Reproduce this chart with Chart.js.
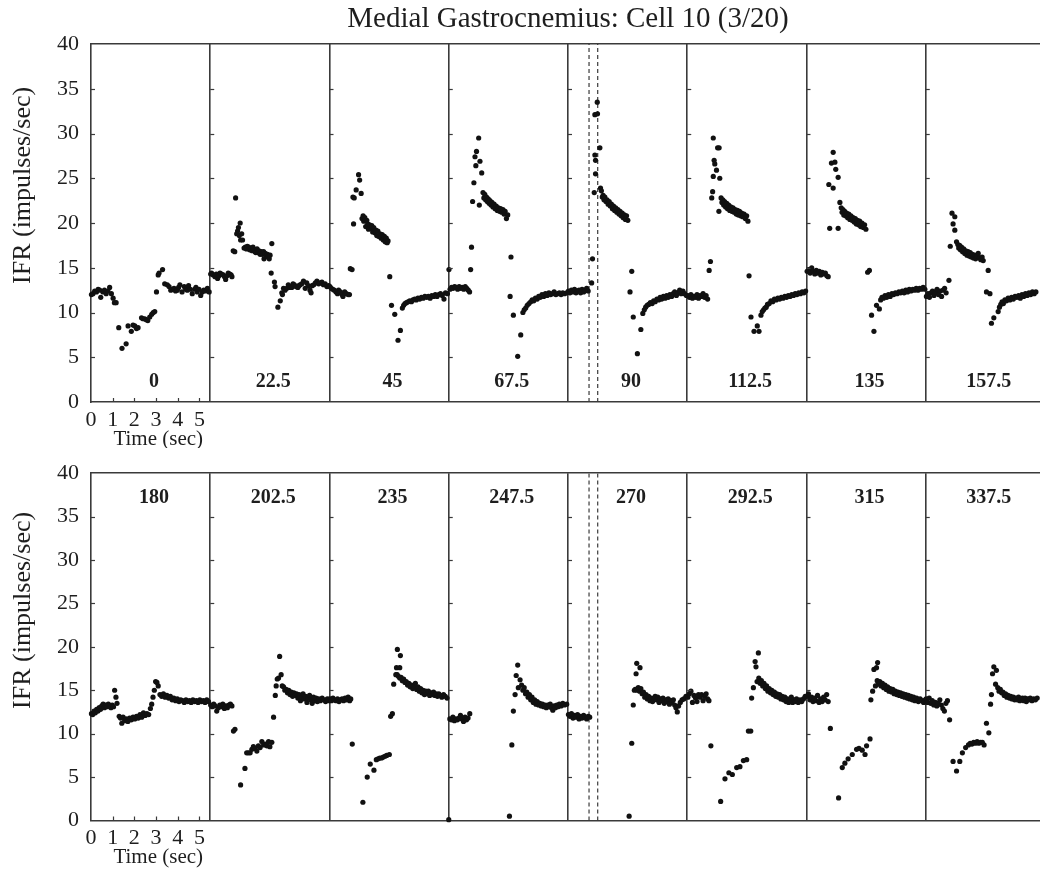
<!DOCTYPE html>
<html>
<head>
<meta charset="utf-8">
<script src="https://cdn.jsdelivr.net/npm/chart.js@4.4.1/dist/chart.umd.min.js"></script>
<style>
  html, body { margin: 0; padding: 0; background: #fff; overflow: hidden; }
  canvas { display: block; }
</style>
</head>
<body>
<canvas id="rowTop" width="1050" height="448"></canvas>
<canvas id="rowBottom" width="1050" height="424"></canvas>
<script>
// ---- data: [time in window (sec), IFR (impulses/sec)] per stimulus direction ----

const topLabels = ['0', '22.5', '45', '67.5', '90', '112.5', '135', '157.5'];
const bottomLabels = ['180', '202.5', '235', '247.5', '270', '292.5', '315', '337.5'];
const timeTicks = [0, 1, 2, 3, 4, 5];
const ifrTicks = [0, 5, 10, 15, 20, 25, 30, 35, 40];
const holdMarks = [0.97, 1.37];   // dashed markers, 90 and 270 panels

const deg0 = [[0.02,12.0],[0.09,12.1],[0.17,12.4],[0.25,12.3],[0.33,12.6],[0.40,12.5],[0.45,11.7],[0.55,12.3],[0.62,12.5],[0.70,12.1],[0.78,12.4],[0.86,12.8],[0.94,12.1],[1.02,11.6],[1.08,11.1],[1.16,11.1],[1.28,8.3],[1.43,6.0],[1.62,6.5],[1.71,8.5],[1.86,7.9],[1.94,8.6],[2.02,8.5],[2.10,8.2],[2.17,8.3],[2.33,9.4],[2.40,9.3],[2.48,9.3],[2.55,9.2],[2.62,9.1],[2.71,9.5],[2.80,9.8],[2.87,10.0],[2.94,10.1],[3.02,12.3],[3.10,14.2],[3.14,14.4],[3.30,14.8],[3.40,13.2],[3.52,13.1],[3.60,12.9],[3.68,12.5],[3.76,12.6],[3.83,12.7],[3.90,12.4],[3.98,12.5],[4.04,12.8],[4.10,13.1],[4.20,12.3],[4.30,12.9],[4.37,12.6],[4.44,12.5],[4.50,13.0],[4.58,12.6],[4.67,12.1],[4.78,12.6],[4.84,12.8],[4.90,12.3],[4.98,12.6],[5.06,11.9],[5.13,12.3],[5.20,12.5],[5.28,12.4],[5.37,12.7],[5.45,12.3]];
const deg22_5 = [[0.02,14.3],[0.06,14.4],[0.14,14.2],[0.22,14.0],[0.28,14.3],[0.34,13.8],[0.40,14.1],[0.45,14.4],[0.52,14.3],[0.60,14.2],[0.66,14.0],[0.71,13.7],[0.77,14.1],[0.83,14.4],[0.90,14.3],[0.96,14.2],[1.00,14.0],[1.06,16.9],[1.13,16.8],[1.17,22.8],[1.22,18.8],[1.26,19.1],[1.30,19.5],[1.34,18.6],[1.38,20.0],[1.40,18.1],[1.45,18.8],[1.49,18.1],[1.56,17.2],[1.62,17.3],[1.67,17.1],[1.71,17.4],[1.77,17.3],[1.82,17.0],[1.87,17.2],[1.93,16.9],[1.97,17.3],[2.02,17.0],[2.07,16.8],[2.10,16.7],[2.16,17.1],[2.20,16.7],[2.25,16.9],[2.30,16.5],[2.35,16.8],[2.41,16.5],[2.46,16.8],[2.48,16.0],[2.54,16.6],[2.58,16.3],[2.64,16.5],[2.68,16.2],[2.72,16.0],[2.76,16.4],[2.81,14.4],[2.84,17.7],[2.96,13.4],[2.99,12.9],[3.12,10.6],[3.23,11.3],[3.30,12.2],[3.33,12.0],[3.38,12.7],[3.45,12.5],[3.53,12.7],[3.60,13.1],[3.66,12.8],[3.72,12.9],[3.76,12.8],[3.82,13.2],[3.88,13.1],[3.95,12.9],[4.04,12.8],[4.09,13.0],[4.14,13.1],[4.22,13.2],[4.30,13.5],[4.38,12.7],[4.45,13.3],[4.52,13.0],[4.60,12.5],[4.65,12.2],[4.70,13.0],[4.77,13.1],[4.85,13.3],[4.92,13.5],[5.00,13.2],[5.07,13.3],[5.15,13.4],[5.22,13.1],[5.30,13.2],[5.38,12.9],[5.46,13.0]];
const deg45 = [[0.02,12.9],[0.08,12.7],[0.15,12.6],[0.22,12.5],[0.30,12.3],[0.37,12.1],[0.42,12.5],[0.50,12.3],[0.58,12.0],[0.62,11.8],[0.70,12.3],[0.78,12.1],[0.86,12.0],[0.92,12.0],[0.96,14.9],[1.04,14.8],[1.08,22.9],[1.11,19.9],[1.14,22.8],[1.23,23.7],[1.34,25.4],[1.39,24.8],[1.46,23.3],[1.50,20.5],[1.55,20.8],[1.58,20.2],[1.63,20.6],[1.67,19.6],[1.72,20.3],[1.76,19.9],[1.80,19.3],[1.85,19.8],[1.90,19.4],[1.95,19.7],[1.99,19.0],[2.04,19.5],[2.09,18.9],[2.14,19.2],[2.18,18.6],[2.23,19.1],[2.28,18.5],[2.33,18.8],[2.38,18.3],[2.43,18.7],[2.48,18.1],[2.53,18.5],[2.57,17.9],[2.62,18.3],[2.66,17.8],[2.70,18.0],[2.78,14.0],[2.86,10.8],[3.01,9.8],[3.16,6.9],[3.27,8.0],[3.36,10.5],[3.42,10.8],[3.48,11.0],[3.55,11.1],[3.62,11.2],[3.70,11.3],[3.78,11.2],[3.85,11.4],[3.93,11.5],[4.00,11.4],[4.08,11.6],[4.16,11.5],[4.24,11.7],[4.32,11.6],[4.40,11.8],[4.48,11.7],[4.56,11.8],[4.64,11.6],[4.72,11.9],[4.80,11.8],[4.88,12.0],[4.96,11.8],[5.04,12.0],[5.12,12.1],[5.20,11.9],[5.28,11.5],[5.35,12.2],[5.44,12.1]];
const deg67_5 = [[0.01,14.8],[0.06,12.6],[0.13,12.8],[0.20,12.7],[0.27,12.9],[0.34,12.8],[0.41,12.6],[0.48,12.9],[0.55,12.7],[0.62,12.8],[0.69,12.6],[0.76,12.9],[0.83,12.7],[0.90,12.5],[0.96,12.3],[1.01,14.8],[1.05,17.3],[1.10,22.4],[1.16,24.5],[1.21,27.4],[1.25,26.4],[1.28,28.0],[1.38,29.5],[1.41,22.0],[1.44,26.9],[1.52,25.6],[1.58,23.4],[1.62,22.8],[1.66,23.2],[1.70,22.6],[1.74,22.9],[1.78,22.4],[1.82,22.7],[1.86,22.2],[1.90,22.5],[1.95,22.0],[1.99,22.3],[2.04,21.8],[2.09,22.1],[2.14,21.6],[2.19,21.9],[2.24,21.4],[2.29,21.7],[2.34,21.3],[2.39,21.6],[2.44,21.2],[2.50,21.5],[2.55,21.0],[2.60,21.3],[2.66,20.5],[2.72,20.9],[2.83,11.8],[2.87,16.2],[2.98,9.7],[3.18,5.1],[3.32,7.5],[3.42,10.0],[3.48,10.3],[3.55,10.5],[3.62,10.8],[3.70,11.0],[3.78,11.2],[3.85,11.4],[3.92,11.3],[4.00,11.6],[4.08,11.5],[4.15,11.8],[4.22,11.7],[4.30,12.0],[4.38,11.8],[4.46,12.1],[4.54,11.9],[4.62,12.2],[4.70,12.0],[4.78,12.1],[4.86,12.3],[4.94,12.0],[5.02,12.1],[5.10,12.2],[5.18,12.0],[5.26,12.2],[5.34,12.1],[5.44,12.2]];
const deg90 = [[0.02,12.4],[0.09,12.2],[0.16,12.5],[0.23,12.3],[0.30,12.6],[0.37,12.2],[0.44,12.4],[0.51,12.5],[0.58,12.2],[0.65,12.6],[0.72,12.3],[0.79,12.5],[0.86,12.7],[0.93,12.4],[1.09,13.3],[1.13,16.0],[1.21,23.4],[1.24,27.6],[1.24,32.1],[1.27,27.0],[1.27,25.5],[1.35,33.5],[1.36,32.2],[1.47,28.4],[1.50,23.9],[1.54,23.6],[1.58,22.9],[1.62,23.1],[1.66,22.6],[1.70,22.9],[1.75,22.4],[1.80,22.6],[1.85,22.1],[1.90,22.4],[1.95,21.9],[2.00,22.1],[2.05,21.6],[2.10,21.9],[2.15,21.4],[2.20,21.7],[2.25,21.2],[2.30,21.5],[2.35,21.0],[2.40,21.3],[2.45,20.8],[2.50,21.1],[2.55,20.6],[2.60,20.9],[2.65,20.4],[2.70,20.8],[2.76,20.3],[2.86,12.3],[2.94,14.6],[3.01,9.5],[3.20,5.4],[3.36,8.1],[3.45,9.9],[3.52,10.3],[3.58,10.6],[3.65,10.8],[3.72,10.9],[3.80,11.1],[3.88,11.0],[3.95,11.3],[4.02,11.2],[4.10,11.5],[4.18,11.4],[4.25,11.7],[4.32,11.5],[4.40,11.8],[4.48,11.6],[4.55,11.9],[4.62,11.7],[4.70,12.0],[4.78,11.8],[4.85,12.1],[4.92,12.3],[5.00,11.9],[5.08,12.2],[5.15,12.5],[5.22,12.1],[5.30,12.4],[5.38,12.1],[5.46,11.9]];
const deg112_5 = [[0.03,11.9],[0.10,11.7],[0.17,12.0],[0.24,11.6],[0.31,11.8],[0.38,11.7],[0.45,12.0],[0.52,11.6],[0.59,11.9],[0.66,11.8],[0.73,12.1],[0.80,11.7],[0.87,11.9],[0.94,11.5],[1.01,14.7],[1.07,15.7],[1.13,22.8],[1.17,23.5],[1.20,25.2],[1.20,29.5],[1.24,27.0],[1.27,26.6],[1.35,25.9],[1.40,28.4],[1.46,21.3],[1.47,28.4],[1.50,25.0],[1.56,22.8],[1.60,22.3],[1.64,22.6],[1.68,22.0],[1.72,22.4],[1.77,21.8],[1.82,22.2],[1.86,21.6],[1.91,22.0],[1.96,21.4],[2.01,21.8],[2.06,21.3],[2.11,21.7],[2.16,21.2],[2.21,21.5],[2.26,21.0],[2.31,21.4],[2.36,20.9],[2.41,21.3],[2.46,20.8],[2.51,21.1],[2.56,20.7],[2.62,21.0],[2.68,20.5],[2.74,20.8],[2.80,20.2],[2.85,14.1],[2.94,9.5],[3.08,7.9],[3.23,8.5],[3.31,7.9],[3.40,9.7],[3.46,10.1],[3.52,10.3],[3.58,10.5],[3.64,10.6],[3.70,10.9],[3.78,11.0],[3.86,11.3],[3.94,11.2],[4.02,11.5],[4.10,11.4],[4.18,11.6],[4.26,11.5],[4.34,11.7],[4.42,11.6],[4.50,11.8],[4.58,11.7],[4.66,11.9],[4.74,11.8],[4.82,12.0],[4.90,11.9],[4.98,12.1],[5.06,12.0],[5.14,12.2],[5.22,12.1],[5.30,12.3],[5.38,12.2],[5.46,12.4]];
const deg135 = [[0.03,14.6],[0.10,14.8],[0.17,14.4],[0.24,15.0],[0.31,14.6],[0.38,14.3],[0.45,14.7],[0.52,14.4],[0.59,14.6],[0.66,14.2],[0.73,14.5],[0.80,14.3],[0.87,14.4],[0.94,14.1],[1.00,14.0],[1.03,24.3],[1.07,19.4],[1.15,26.7],[1.23,23.9],[1.23,27.9],[1.31,26.8],[1.35,26.0],[1.46,25.1],[1.46,19.4],[1.54,22.3],[1.60,21.7],[1.64,21.2],[1.68,21.5],[1.72,20.9],[1.76,21.3],[1.80,20.8],[1.85,21.1],[1.90,20.6],[1.95,21.0],[2.00,20.4],[2.05,20.8],[2.10,20.3],[2.15,20.6],[2.20,20.1],[2.25,20.5],[2.30,19.9],[2.35,20.3],[2.40,19.8],[2.45,20.2],[2.50,19.6],[2.56,20.0],[2.62,19.5],[2.68,19.8],[2.74,19.3],[2.82,14.5],[2.90,14.7],[3.00,9.7],[3.11,7.9],[3.23,10.8],[3.36,10.4],[3.42,11.4],[3.48,11.7],[3.55,11.6],[3.62,11.9],[3.70,11.7],[3.78,12.0],[3.86,11.8],[3.94,12.1],[4.02,12.0],[4.10,12.2],[4.18,12.1],[4.26,12.3],[4.34,12.2],[4.42,12.4],[4.50,12.2],[4.58,12.5],[4.66,12.3],[4.74,12.6],[4.82,12.4],[4.90,12.6],[4.98,12.5],[5.06,12.7],[5.14,12.5],[5.22,12.7],[5.30,12.6],[5.38,12.8],[5.46,12.6]];
const deg157_5 = [[0.03,11.8],[0.10,12.1],[0.17,11.7],[0.24,12.2],[0.31,12.4],[0.38,11.9],[0.45,12.3],[0.52,12.6],[0.59,12.0],[0.66,12.4],[0.73,11.8],[0.80,12.5],[0.87,12.7],[0.94,12.2],[1.07,13.6],[1.13,17.4],[1.21,21.1],[1.26,19.9],[1.34,20.7],[1.34,19.2],[1.42,17.9],[1.48,17.6],[1.52,17.2],[1.56,17.5],[1.60,17.0],[1.65,17.3],[1.70,16.8],[1.75,17.1],[1.80,16.6],[1.85,16.9],[1.90,16.4],[1.95,16.8],[2.00,16.3],[2.05,16.7],[2.10,16.2],[2.15,16.5],[2.20,16.1],[2.25,16.4],[2.30,16.0],[2.36,16.3],[2.42,16.6],[2.48,16.1],[2.54,15.9],[2.60,16.2],[2.65,15.8],[2.80,12.3],[2.88,14.7],[2.96,12.1],[3.03,8.8],[3.14,9.4],[3.34,10.1],[3.40,10.6],[3.46,10.9],[3.52,11.2],[3.58,11.0],[3.65,11.4],[3.72,11.3],[3.80,11.6],[3.88,11.4],[3.96,11.7],[4.04,11.5],[4.12,11.8],[4.20,11.7],[4.28,11.9],[4.36,11.6],[4.44,12.0],[4.52,11.8],[4.60,12.1],[4.68,11.9],[4.76,12.2],[4.84,12.0],[4.92,12.3],[5.00,12.1],[5.08,12.3]];

const deg180 = [[0.02,12.3],[0.08,12.2],[0.14,12.6],[0.20,12.4],[0.26,12.8],[0.32,12.6],[0.38,13.0],[0.44,12.8],[0.50,13.2],[0.56,13.4],[0.62,13.0],[0.68,13.3],[0.74,13.1],[0.80,13.4],[0.86,13.2],[0.92,13.0],[0.98,13.3],[1.04,13.1],[1.09,15.0],[1.15,14.2],[1.20,13.5],[1.30,12.0],[1.36,11.8],[1.42,11.2],[1.48,11.9],[1.55,11.5],[1.62,11.7],[1.70,11.4],[1.78,11.8],[1.86,11.6],[1.94,11.9],[2.02,11.7],[2.10,12.0],[2.18,11.8],[2.26,12.2],[2.34,11.9],[2.42,12.4],[2.50,12.1],[2.58,12.3],[2.66,12.2],[2.74,12.9],[2.80,13.4],[2.86,14.2],[2.92,15.0],[2.98,16.0],[3.04,15.9],[3.10,15.5],[3.18,14.5],[3.26,14.3],[3.34,14.6],[3.42,14.2],[3.50,14.4],[3.58,14.1],[3.66,14.3],[3.74,13.9],[3.82,14.1],[3.90,13.8],[3.98,14.0],[4.06,13.7],[4.14,13.9],[4.22,13.8],[4.30,13.6],[4.38,13.9],[4.46,13.7],[4.54,13.8],[4.62,13.6],[4.70,13.9],[4.78,13.7],[4.86,13.8],[4.94,13.6],[5.02,13.9],[5.10,13.7],[5.18,13.8],[5.26,13.6],[5.34,13.9],[5.42,13.7]];
const deg202_5 = [[0.02,13.3],[0.09,13.1],[0.16,13.4],[0.23,13.2],[0.30,12.6],[0.37,13.0],[0.44,13.3],[0.51,13.1],[0.58,13.4],[0.65,12.9],[0.72,13.2],[0.79,13.0],[0.86,13.3],[0.93,13.4],[1.00,13.2],[1.07,10.3],[1.14,10.5],[1.40,4.1],[1.60,6.0],[1.68,7.8],[1.76,7.8],[1.84,7.8],[1.92,8.2],[1.99,8.5],[2.07,8.3],[2.15,8.0],[2.22,8.6],[2.30,8.4],[2.38,9.1],[2.46,8.7],[2.53,8.8],[2.61,8.6],[2.69,9.1],[2.75,8.5],[2.84,9.0],[2.92,11.9],[3.00,14.4],[3.04,15.5],[3.09,16.3],[3.15,16.4],[3.20,18.9],[3.27,16.8],[3.32,15.5],[3.38,15.4],[3.44,15.0],[3.50,15.1],[3.56,14.7],[3.62,15.0],[3.68,14.5],[3.74,14.8],[3.80,14.3],[3.86,14.7],[3.92,14.4],[3.98,14.6],[4.04,14.1],[4.10,14.5],[4.16,13.8],[4.22,14.2],[4.28,14.6],[4.34,14.0],[4.40,14.3],[4.46,13.6],[4.52,14.1],[4.58,14.4],[4.64,13.9],[4.70,13.5],[4.76,14.2],[4.82,13.8],[4.88,14.1],[4.94,13.7],[5.00,14.0],[5.08,13.8],[5.16,14.1],[5.24,13.9],[5.32,13.7],[5.40,14.0],[5.48,13.8]];
const deg235 = [[0.02,14.0],[0.09,13.8],[0.16,14.1],[0.23,13.9],[0.30,13.8],[0.37,14.0],[0.44,13.7],[0.51,13.9],[0.58,14.0],[0.65,13.8],[0.72,14.1],[0.79,13.9],[0.86,14.2],[0.93,13.8],[0.98,14.0],[1.05,8.8],[1.54,2.1],[1.74,5.0],[1.88,6.5],[2.05,5.8],[2.16,7.0],[2.24,7.1],[2.32,7.2],[2.40,7.2],[2.48,7.3],[2.56,7.4],[2.64,7.5],[2.76,7.6],[2.82,12.0],[2.90,12.3],[2.96,15.7],[3.06,16.8],[3.09,17.6],[3.13,19.7],[3.24,17.6],[3.27,19.0],[3.12,16.8],[3.18,16.6],[3.24,16.4],[3.30,16.5],[3.36,16.1],[3.42,16.3],[3.48,15.9],[3.54,16.0],[3.60,15.6],[3.66,15.8],[3.72,15.4],[3.78,15.6],[3.84,15.2],[3.90,15.5],[3.96,15.8],[4.02,15.1],[4.08,15.4],[4.14,14.9],[4.20,15.2],[4.26,14.7],[4.32,15.0],[4.38,14.5],[4.44,14.9],[4.50,14.6],[4.56,14.9],[4.62,14.4],[4.68,14.7],[4.74,14.5],[4.80,14.8],[4.86,14.4],[4.92,14.6],[4.98,14.3],[5.04,14.6],[5.10,14.4],[5.18,14.2],[5.26,14.5],[5.34,14.3],[5.42,14.1]];
const deg247_5 = [[0.00,0.1],[0.05,11.7],[0.12,11.6],[0.19,11.9],[0.26,11.5],[0.33,11.7],[0.40,11.6],[0.47,11.8],[0.54,12.1],[0.61,11.7],[0.68,11.4],[0.75,11.9],[0.82,11.6],[0.89,11.8],[0.97,12.3],[2.80,0.5],[2.91,8.7],[2.98,12.6],[3.06,14.5],[3.11,16.7],[3.18,17.9],[3.21,15.3],[3.29,16.2],[3.36,15.6],[3.42,15.0],[3.48,15.3],[3.54,14.6],[3.60,14.8],[3.66,14.2],[3.72,14.5],[3.78,13.9],[3.84,14.2],[3.90,13.6],[3.96,13.9],[4.02,13.4],[4.08,13.7],[4.14,13.3],[4.20,13.5],[4.26,13.2],[4.32,13.4],[4.38,13.1],[4.44,13.3],[4.50,13.0],[4.56,13.3],[4.62,13.1],[4.68,13.4],[4.74,13.0],[4.80,12.7],[4.86,13.2],[4.92,13.0],[4.98,13.3],[5.04,13.1],[5.10,13.4],[5.18,13.2],[5.26,13.5],[5.34,13.3],[5.44,13.4]];
const deg270 = [[0.02,12.2],[0.09,12.0],[0.16,12.3],[0.23,11.8],[0.30,12.1],[0.37,11.9],[0.44,12.2],[0.51,11.7],[0.58,12.0],[0.65,11.8],[0.72,12.1],[0.79,11.9],[0.86,11.7],[0.93,12.0],[1.00,11.9],[2.82,0.5],[2.94,8.9],[3.01,13.3],[3.06,15.0],[3.10,15.1],[3.14,16.9],[3.17,18.1],[3.18,15.0],[3.24,15.3],[3.30,14.9],[3.32,17.6],[3.36,15.2],[3.42,14.6],[3.48,14.8],[3.54,14.2],[3.60,14.5],[3.66,14.0],[3.72,14.3],[3.78,13.8],[3.84,14.1],[3.90,13.7],[3.96,14.0],[4.02,14.3],[4.08,13.9],[4.14,14.2],[4.20,13.6],[4.26,14.0],[4.32,13.8],[4.38,14.1],[4.44,13.5],[4.50,13.9],[4.56,13.7],[4.62,14.0],[4.68,13.4],[4.74,13.8],[4.80,13.6],[4.86,13.9],[4.92,13.3],[4.98,13.0],[5.04,12.5],[5.10,13.2],[5.18,13.6],[5.26,13.9],[5.34,14.0],[5.44,14.3]];
const deg292_5 = [[0.03,14.2],[0.10,14.6],[0.17,14.9],[0.24,13.6],[0.31,14.4],[0.38,14.1],[0.45,13.7],[0.52,14.5],[0.59,14.2],[0.66,14.5],[0.73,13.8],[0.80,14.3],[0.87,14.6],[0.94,14.0],[1.00,13.8],[1.09,8.6],[1.54,2.2],[1.74,4.8],[1.92,5.5],[2.08,5.3],[2.28,6.1],[2.43,6.2],[2.59,6.9],[2.74,7.0],[2.82,10.3],[2.93,10.3],[2.97,14.1],[3.05,15.3],[3.13,18.3],[3.17,17.7],[3.28,19.3],[3.22,16.0],[3.30,16.4],[3.36,15.8],[3.42,16.1],[3.48,15.5],[3.54,15.8],[3.60,15.2],[3.66,15.5],[3.72,14.9],[3.78,15.2],[3.84,14.7],[3.90,15.0],[3.96,14.5],[4.02,14.8],[4.08,14.3],[4.14,14.6],[4.20,14.2],[4.26,14.5],[4.32,14.0],[4.38,14.3],[4.44,13.9],[4.50,14.2],[4.56,13.7],[4.62,14.0],[4.68,13.6],[4.74,13.9],[4.80,14.2],[4.86,13.6],[4.92,13.9],[4.98,13.7],[5.04,14.0],[5.12,13.6],[5.20,13.9],[5.28,13.7],[5.36,14.0],[5.44,14.3]];
const deg315 = [[0.02,14.3],[0.09,14.6],[0.16,13.9],[0.23,14.2],[0.30,13.7],[0.37,14.1],[0.44,13.8],[0.51,14.4],[0.58,13.6],[0.65,14.0],[0.72,13.7],[0.79,14.2],[0.86,13.9],[0.93,14.5],[1.00,13.7],[1.10,10.6],[1.48,2.6],[1.65,6.1],[1.77,6.6],[1.92,7.1],[2.11,7.6],[2.31,8.2],[2.42,8.3],[2.57,8.1],[2.70,7.6],[2.77,8.6],[2.93,9.4],[2.97,13.9],[3.05,14.9],[3.11,17.4],[3.23,17.6],[3.28,18.2],[3.18,15.5],[3.26,16.1],[3.32,15.7],[3.38,16.0],[3.44,15.5],[3.50,15.8],[3.56,15.3],[3.62,15.6],[3.68,15.1],[3.74,15.4],[3.80,14.9],[3.86,15.2],[3.92,14.8],[3.98,15.1],[4.04,14.6],[4.10,14.9],[4.16,14.5],[4.22,14.8],[4.28,14.4],[4.34,14.7],[4.40,14.3],[4.46,14.6],[4.52,14.2],[4.58,14.5],[4.64,14.1],[4.70,14.4],[4.76,14.0],[4.82,14.3],[4.88,13.9],[4.94,14.2],[5.00,13.8],[5.08,14.1],[5.16,13.7],[5.24,14.0],[5.32,13.8],[5.40,13.6],[5.48,13.9]];
const deg337_5 = [[0.02,14.0],[0.09,13.6],[0.16,14.1],[0.23,13.5],[0.30,13.8],[0.37,13.3],[0.44,13.6],[0.51,13.2],[0.58,13.5],[0.65,13.9],[0.72,13.3],[0.79,12.9],[0.86,12.6],[0.93,13.5],[1.00,13.8],[1.10,11.6],[1.26,6.8],[1.42,5.7],[1.57,6.8],[1.69,7.8],[1.84,8.4],[1.97,8.7],[2.05,8.9],[2.13,8.8],[2.21,9.0],[2.29,8.9],[2.37,9.1],[2.45,8.9],[2.53,9.0],[2.61,9.0],[2.69,8.7],[2.80,11.2],[2.91,10.1],[2.99,13.4],[3.03,14.5],[3.08,16.9],[3.14,17.7],[3.22,15.7],[3.26,17.3],[3.32,15.3],[3.38,14.9],[3.44,15.1],[3.50,14.7],[3.56,14.8],[3.62,14.4],[3.68,14.6],[3.74,14.2],[3.80,14.4],[3.86,14.1],[3.92,14.3],[3.98,14.0],[4.04,14.2],[4.10,13.9],[4.16,14.1],[4.22,13.9],[4.28,14.2],[4.34,13.8],[4.40,14.0],[4.46,14.1],[4.52,13.8],[4.58,14.1],[4.64,13.7],[4.70,14.0],[4.76,13.9],[4.82,14.1],[4.90,13.8],[4.98,14.0],[5.06,13.9],[5.14,14.1]];

const topPanels = [deg0, deg22_5, deg45, deg67_5, deg90, deg112_5, deg135, deg157_5];
const bottomPanels = [deg180, deg202_5, deg235, deg247_5, deg270, deg292_5, deg315, deg337_5];

// ---- look ----

const PANEL_SPAN = 5.5;          // seconds shown per panel
const HOLD_PANEL = 4;            // panel that carries the dashed markers
const SERIF = "'Liberation Serif', 'Times New Roman', serif";
const INK = '#1e1e1e';
const FRAME = '#3a3a3a';

const isBoundary = v => v > 0 && Math.abs(v / PANEL_SPAN - Math.round(v / PANEL_SPAN)) < 1e-6;

// inward tick marks, panel labels and hand placed axis texts
const panelDecor = {
    id: 'panelDecor',
    afterDraw(chart, args, opts) {
        const {ctx, chartArea: area, scales: {x, y}} = chart;
        ctx.save();
        ctx.strokeStyle = FRAME;
        ctx.lineWidth = 1.2;
        for (let k = 0; k < opts.labels.length; k++) {
            const px = x.getPixelForValue(k * PANEL_SPAN);
            ifrTicks.slice(1, -1).forEach(v => {
                const py = Math.round(y.getPixelForValue(v)) + 0.5;
                ctx.beginPath();
                ctx.moveTo(px, py);
                ctx.lineTo(px + 4, py);
                ctx.stroke();
            });
        }
        timeTicks.slice(1).forEach(t => {
            const px = Math.round(x.getPixelForValue(t)) + 0.5;
            ctx.beginPath();
            ctx.moveTo(px, area.bottom);
            ctx.lineTo(px, area.bottom - 4);
            ctx.stroke();
        });

        ctx.fillStyle = INK;
        ctx.textAlign = 'center';
        ctx.textBaseline = 'middle';
        ctx.font = 'bold 20px ' + SERIF;
        opts.labels.forEach((lab, k) => {
            ctx.fillText(lab, x.getPixelForValue(k * PANEL_SPAN + 2.9), y.getPixelForValue(opts.labelAt));
        });

        ctx.font = '21px ' + SERIF;
        ctx.fillText('Time (sec)', x.getPixelForValue(3.1), area.bottom + 37);

        ctx.translate(23, y.getPixelForValue(24.2));
        ctx.rotate(-Math.PI / 2);
        ctx.font = '26px ' + SERIF;
        ctx.fillText('IFR (impulses/sec)', 0, 0);
        ctx.restore();
    }
};

function buildRow(canvasId, panels, labels, opts) {
    const points = panels.flatMap((p, k) => p.map(([t, v]) => ({x: k * PANEL_SPAN + t, y: v})));
    const markers = holdMarks.map(t => ({
        data: [{x: HOLD_PANEL * PANEL_SPAN + t, y: 0}, {x: HOLD_PANEL * PANEL_SPAN + t, y: 40}],
        showLine: true,
        borderColor: FRAME,
        borderWidth: 1.2,
        borderDash: [4, 3],
        pointRadius: 0
    }));
    const span = panels.length * PANEL_SPAN;

    return new Chart(document.getElementById(canvasId), {
        type: 'scatter',
        data: {
            datasets: [{
                data: points,
                pointRadius: 2.6,
                pointBorderWidth: 0,
                pointBackgroundColor: '#111',
                clip: false
            }, ...markers]
        },
        options: {
            responsive: false,
            animation: false,
            events: [],
            layout: {padding: {top: opts.padTop, right: 1050 - opts.right, left: 0, bottom: 0}},
            plugins: {
                legend: {display: false},
                tooltip: {enabled: false},
                title: opts.title ? {
                    display: true,
                    fullSize: false,
                    text: opts.title,
                    color: INK,
                    font: {family: SERIF, size: 29, weight: 'normal', lineHeight: 1.2},
                    padding: {top: 2, bottom: 7.2}
                } : {display: false},
                panelDecor: {labels: labels, labelAt: opts.labelAt}
            },
            scales: {
                x: {
                    type: 'linear',
                    position: 'bottom',
                    min: 0,
                    max: span,
                    afterBuildTicks: s => {
                        const bounds = panels.map((p, k) => (k + 1) * PANEL_SPAN);
                        s.ticks = timeTicks.concat(bounds).map(v => ({value: v}));
                    },
                    afterFit: s => { s.height = opts.xHeight; },
                    ticks: {
                        autoSkip: false,
                        maxRotation: 0,
                        padding: 5,
                        color: INK,
                        font: {family: SERIF, size: 22},
                        callback: v => (timeTicks.includes(v) ? String(v) : '')
                    },
                    grid: {
                        drawTicks: false,
                        lineWidth: 1.6,
                        color: c => (c.tick && isBoundary(c.tick.value) ? FRAME : 'rgba(0,0,0,0)')
                    },
                    border: {display: true, color: FRAME, width: 1.6}
                },
                xTop: {
                    type: 'linear',
                    position: 'top',
                    min: 0,
                    max: span,
                    afterFit: s => { s.height = 0; },
                    ticks: {display: false},
                    grid: {display: false, drawTicks: false},
                    border: {display: true, color: FRAME, width: 1.6}
                },
                y: {
                    min: 0,
                    max: 40,
                    afterBuildTicks: s => { s.ticks = ifrTicks.map(v => ({value: v})); },
                    afterFit: s => { s.width = opts.left; },
                    ticks: {
                        padding: 12,
                        color: INK,
                        font: {family: SERIF, size: 22}
                    },
                    grid: {display: false, drawTicks: false},
                    border: {display: true, color: FRAME, width: 1.6}
                }
            }
        },
        plugins: [panelDecor]
    });
}

buildRow('rowTop', topPanels, topLabels, {
    title: 'Medial Gastrocnemius: Cell 10 (3/20)',
    padTop: 0, left: 91, right: 1045.4, xHeight: 46, labelAt: 2.3
});
buildRow('rowBottom', bottomPanels, bottomLabels, {
    title: null,
    padTop: 14.5, left: 91, right: 1045.4, xHeight: 51.5, labelAt: 37.2
});
</script>
</body>
</html>
